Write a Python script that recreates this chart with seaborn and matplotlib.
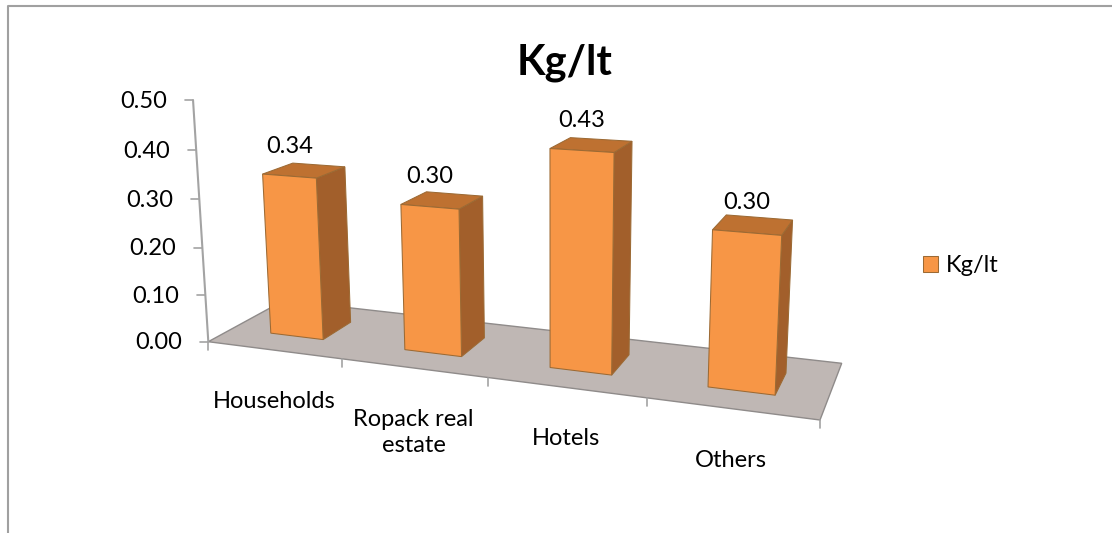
import numpy as np
import matplotlib
matplotlib.use("Agg")
import matplotlib.pyplot as plt
from matplotlib.transforms import Transform, Affine2D
from matplotlib.patches import Polygon, Patch
from matplotlib.lines import Line2D
import seaborn as sns

# ---- data -------------------------------------------------------------
categories = ["Households", "Ropack real\nestate", "Hotels", "Others"]
values = [0.34, 0.30, 0.43, 0.30]
series_name = "Kg/lt"
y_ticks = [0.00, 0.10, 0.20, 0.30, 0.40, 0.50]

# ---- styling / layout -------------------------------------------------
W, H = 1112, 533                      # canvas size in pixels
FRONT, SIDE, TOP = "#F79646", "#A25F2B", "#BE7131"
EDGE = "#9C6A34"
FLOOR, FLOOR_EDGE = "#BFB7B4", "#8F8B8A"
AXIS_GREY = "#A3A3A3"
BAR_WIDTH = 0.4
BAR_DEPTH = (0.3, 0.7)                # front / back of the columns on the floor
FS = 17

# view: floor corners on the canvas (front-left, front-right, back-right, back-left),
# vanishing point of the vertical edges, and the drawn height of the value axis
FLOOR_PX = [(208.3, 341.7), (820.0, 420.0), (841.7, 363.3), (284.0, 300.4)]
VERTICAL_VP = np.array([553.0, 5800.0])
AXIS_HEIGHT_PX = 242.0

sns.set_theme(style="white", rc={"text.color": "black"})
plt.rcParams["font.family"] = ["Lato", "DejaVu Sans"]

n = len(categories)
x_lo, x_hi = -0.5, n - 0.5
y_max = y_ticks[-1]


def floor_homography(src, dst):
    rows, rhs = [], []
    for (X, Z), (u, v) in zip(src, dst):
        rows.append([X, Z, 1, 0, 0, 0, -u * X, -u * Z]); rhs.append(u)
        rows.append([0, 0, 0, X, Z, 1, -v * X, -v * Z]); rhs.append(v)
    h = np.linalg.solve(np.array(rows, float), np.array(rhs, float))
    return np.append(h, 1.0).reshape(3, 3)


Hm = floor_homography([(x_lo, 0), (x_hi, 0), (x_hi, 1), (x_lo, 1)], FLOOR_PX)
q0 = Hm @ np.array([x_lo, 0.0, 1.0])
g0 = q0[:2] / q0[2]
r = -AXIS_HEIGHT_PX / np.linalg.norm(VERTICAL_VP - g0)
lam = r * q0[2] / ((1 - r) * y_max)
p_up = lam * np.array([VERTICAL_VP[0], VERTICAL_VP[1], 1.0])


def project(X, Y, Z):
    X, Y, Z = np.broadcast_arrays(np.asarray(X, float), np.asarray(Y, float),
                                  np.asarray(Z, float))
    shape = X.shape
    X, Y, Z = X.ravel(), Y.ravel(), Z.ravel()
    q = (Hm[:, 0, None] * X + Hm[:, 1, None] * Z + Hm[:, 2, None]
         + p_up[:, None] * Y)
    return np.column_stack([q[0] / q[2], q[1] / q[2]]).reshape(shape + (2,))


class DepthPlane(Transform):
    """Maps (category, value) at a fixed floor depth onto canvas pixels."""
    input_dims = output_dims = 2

    def __init__(self, floor_z):
        super().__init__()
        self.floor_z = floor_z

    def transform_non_affine(self, values):
        values = np.asarray(values, float)
        pts = values.reshape(-1, 2)
        out = project(pts[:, 0], pts[:, 1], self.floor_z)
        return out.reshape(values.shape)


fig = plt.figure(figsize=(W / 100, H / 100), dpi=100)
ax = fig.add_axes([0, 0, 1, 1])
pix = Affine2D().scale(1 / W, -1 / H).translate(0, 1) + fig.transFigure

sns.barplot(x=categories, y=values, color=FRONT, saturation=1, width=BAR_WIDTH,
            edgecolor=EDGE, linewidth=0.75, ax=ax)
ax.set_axis_off()
bars = list(ax.patches)

# floor
floor = project([x_lo, x_hi, x_hi, x_lo], 0, [0, 0, 1, 1])
ax.add_patch(Polygon(floor, closed=True, transform=pix, facecolor=FLOOR,
                     edgecolor=FLOOR_EDGE, lw=1.0, zorder=0.5, clip_on=False))

# value axis with ticks
axis_pts = project([x_lo, x_lo], [0, y_max], 0)
ax.plot(axis_pts[:, 0], axis_pts[:, 1], transform=pix, color=AXIS_GREY, lw=1.5,
        zorder=0.6, clip_on=False)
for v in y_ticks:
    px, py = project(x_lo, v, 0)
    ax.plot([px - 8, px], [py, py], transform=pix, color=AXIS_GREY, lw=1.2,
            zorder=0.6, clip_on=False)
    ax.text(px - 26, py + 1, f"{v:.2f}", transform=pix, ha="right", va="center",
            fontsize=FS)

# category ticks along the front edge and their labels
for e in np.arange(n + 1) - 0.5:
    px, py = project(e, 0, 0)
    ax.plot([px, px], [py, py + 8], transform=pix, color=AXIS_GREY, lw=1.2,
            zorder=0.6, clip_on=False)
for i, name in enumerate(categories):
    px, py = project(i, 0, 0)
    ax.text(px, py + 41, name, transform=pix, ha="center", va="top",
            multialignment="center", fontsize=FS, linespacing=1.3)

# columns: front faces are the seaborn bars, side and top faces follow them
z0, z1 = BAR_DEPTH
front_tr = DepthPlane(z0) + pix
for i, bar in enumerate(bars):
    x0 = bar.get_x()
    x1 = x0 + bar.get_width()
    h = bar.get_height()
    base = 2 + i * 0.1
    side = project(x1, [0, 0, h, h], [z0, z1, z1, z0])
    top = project([x0, x1, x1, x0], h, [z0, z0, z1, z1])
    ax.add_patch(Polygon(side, closed=True, transform=pix, facecolor=SIDE,
                         edgecolor=EDGE, lw=0.75, zorder=base, clip_on=False))
    ax.add_patch(Polygon(top, closed=True, transform=pix, facecolor=TOP,
                         edgecolor=EDGE, lw=0.75, zorder=base + 0.01, clip_on=False))
    bar.set_transform(front_tr)
    bar.set_clip_on(False)
    bar.set_zorder(base + 0.02)
    lx, ly = project(x0 + bar.get_width() / 2, h, z0)
    ax.text(lx, ly - 30, f"{h:.2f}", transform=pix, ha="center", va="center",
            fontsize=FS, zorder=5)

# title
fig.text(565 / W, 1 - 74 / H, series_name, ha="center", va="baseline",
         fontsize=30, fontweight="bold")

# legend
ax.legend(handles=[Patch(facecolor=FRONT, edgecolor=EDGE, lw=0.75, label=series_name)],
          loc="center left", bbox_to_anchor=(923 / W, 1 - 265.5 / H),
          bbox_transform=fig.transFigure, frameon=False, fontsize=FS,
          handlelength=0.64, handleheight=0.64, handletextpad=0.33,
          borderpad=0, borderaxespad=0)

# chart-area border (left and top edges)
fig.add_artist(Line2D([8 / W, 8 / W, 1], [0, 1 - 6 / H, 1 - 6 / H],
                      transform=fig.transFigure, color="#A0A0A0", lw=1.5))

fig.savefig("out.png", dpi=100)
